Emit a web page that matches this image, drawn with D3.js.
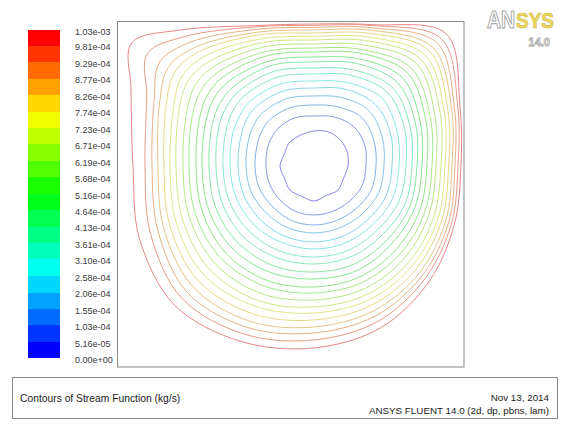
<!DOCTYPE html>
<html>
<head>
<meta charset="utf-8">
<script src="https://cdn.jsdelivr.net/npm/d3@7"></script>
<style>
  body { margin: 0; background: #fff; }
  svg { display: block; }
  text { font-family: "Liberation Sans", Arial, sans-serif; }
</style>
</head>
<body>
<svg id="chart" width="569" height="431"></svg>
<script>
// Contour levels of the stream function (kg/s), bottom to top of the colour bar
const levels = [0, 5.16e-5, 1.03e-4, 1.55e-4, 2.06e-4, 2.58e-4, 3.10e-4, 3.61e-4,
  4.13e-4, 4.64e-4, 5.16e-4, 5.68e-4, 6.19e-4, 6.71e-4, 7.23e-4, 7.74e-4,
  8.26e-4, 8.77e-4, 9.29e-4, 9.81e-4, 1.03e-3];

const tickLabels = ["0.00e+00", "5.16e-05", "1.03e-04", "1.55e-04", "2.06e-04",
  "2.58e-04", "3.10e-04", "3.61e-04", "4.13e-04", "4.64e-04", "5.16e-04",
  "5.68e-04", "6.19e-04", "6.71e-04", "7.23e-04", "7.74e-04", "8.26e-04",
  "8.77e-04", "9.29e-04", "9.81e-04", "1.03e-03"];

// Colour of each band between two neighbouring levels
const bandColors = ["#0000ff", "#0035ff", "#006bff", "#00a1ff", "#00d7ff",
  "#00fff1", "#00ffbc", "#00ff86", "#00ff50", "#00ff1b", "#1bff00", "#51ff00",
  "#86ff00", "#bcff00", "#f2ff00", "#ffd700", "#ffa100", "#ff6b00", "#ff3500",
  "#ff0000"];

// Cavity is 100 mm x 100 mm; primary vortex centre (mm)
const vortexCentre = [55.8, 56.8];

// Directions (degrees, counter-clockwise from +x) along which iso-lines are sampled
const rayAngles = [0, 22.5, 45, 67.5, 90, 112.5, 135, 146, 157.5,
  180, 202.5, 225, 247.5, 270, 292.5, 315, 337.5];

// Distance (mm) from the vortex centre to each iso-line along each ray;
// one row per ray, one column per level (5.16e-05 ... 1.03e-03)
const crossings = [
  [10.2, 15.6, 18.6, 21.0, 23.4, 25.5, 27.6, 29.4, 30.9, 32.4, 33.9, 35.4, 36.6, 38.1, 39.3, 40.4, 41.4, 42.3, 43.2, 44.1],
  [10.8, 16.5, 19.5, 22.2, 24.9, 27.0, 29.4, 31.2, 33.0, 34.5, 36.3, 37.8, 39.3, 41.0, 42.3, 43.5, 44.7, 45.6, 46.7, 47.4],
  [11.1, 16.8, 20.4, 23.4, 26.1, 28.8, 31.2, 33.3, 35.4, 37.5, 39.6, 41.4, 43.5, 45.3, 47.1, 48.9, 50.4, 52.2, 54.0, 56.1],
  [11.1, 15.9, 19.2, 22.2, 24.9, 27.0, 29.4, 31.2, 33.3, 34.8, 36.6, 37.8, 39.3, 40.7, 41.9, 43.1, 44.1, 44.9, 45.6, 45.9],
  [10.5, 15.0, 18.3, 21.0, 23.4, 25.5, 27.6, 29.4, 31.2, 32.7, 34.2, 35.4, 36.6, 37.8, 38.9, 39.9, 40.8, 41.6, 42.2, 42.6],
  [10.1, 15.6, 18.9, 21.8, 24.3, 26.6, 28.8, 30.8, 32.7, 34.2, 35.9, 37.2, 38.7, 40.1, 41.3, 42.6, 43.5, 44.4, 45.2, 45.6],
  [10.2, 15.6, 19.2, 22.2, 24.9, 27.3, 29.7, 31.8, 33.9, 36.0, 38.1, 40.2, 42.3, 44.4, 46.5, 48.6, 50.4, 52.5, 54.9, 57.6],
  [9.9, 15.3, 18.8, 21.8, 24.5, 26.9, 29.4, 31.7, 33.9, 36.2, 38.4, 40.8, 43.1, 45.6, 47.9, 50.4, 52.8, 55.8, 60.3, 66.0],
  [9.6, 15.0, 18.3, 21.2, 23.7, 26.3, 28.5, 30.9, 33.0, 35.1, 37.2, 39.5, 41.4, 43.8, 45.6, 48.0, 50.1, 51.9, 54.3, 59.4],
  [10.2, 14.4, 17.7, 20.4, 22.8, 25.2, 27.3, 29.4, 31.5, 33.6, 35.4, 37.5, 39.3, 41.4, 43.2, 45.0, 46.8, 48.6, 50.7, 54.3],
  [9.6, 14.4, 17.7, 20.4, 22.8, 25.2, 27.5, 29.7, 32.0, 34.2, 36.2, 38.4, 40.4, 42.6, 44.7, 46.8, 48.8, 50.7, 53.1, 56.7],
  [10.2, 14.4, 17.4, 20.1, 22.8, 25.2, 27.6, 30.0, 32.4, 34.8, 37.2, 39.3, 41.7, 44.1, 46.5, 48.9, 51.3, 53.7, 56.1, 59.1],
  [9.8, 14.7, 17.7, 20.1, 22.8, 24.9, 27.5, 29.7, 32.3, 34.5, 37.1, 39.0, 41.4, 43.7, 45.6, 48.0, 50.4, 52.4, 54.6, 57.0],
  [10.5, 14.7, 17.7, 20.1, 22.8, 24.9, 27.3, 29.4, 31.8, 33.9, 36.3, 38.1, 40.2, 42.3, 44.1, 46.2, 48.3, 50.1, 52.2, 54.6],
  [9.6, 14.7, 17.7, 20.1, 22.8, 24.9, 27.3, 29.4, 31.8, 33.9, 36.0, 37.8, 39.8, 41.7, 43.4, 45.2, 47.0, 48.6, 50.4, 52.5],
  [10.2, 15.0, 18.0, 20.4, 22.8, 24.9, 27.0, 29.1, 31.2, 33.0, 35.1, 36.9, 38.7, 40.5, 42.0, 43.5, 45.0, 46.2, 47.4, 48.9],
  [9.6, 15.6, 18.6, 21.0, 23.4, 25.5, 27.6, 29.6, 31.2, 32.7, 34.4, 36.0, 37.4, 39.0, 40.4, 41.6, 42.8, 43.8, 44.7, 45.6]
];

const svg = d3.select("#chart");

// ---- colour bar ----
const barY = d3.scaleLinear().domain([0, levels[levels.length - 1]]).range([358.3, 30]);
const bar = svg.append("g");
bar.selectAll("rect")
  .data(bandColors)
  .join("rect")
  .attr("x", 28)
  .attr("width", 32)
  .attr("y", (c, i) => barY(levels[i + 1]))
  .attr("height", (c, i) => barY(levels[i]) - barY(levels[i + 1]))
  .attr("fill", c => c)
  .attr("shape-rendering", "crispEdges");

bar.selectAll("text")
  .data(tickLabels)
  .join("text")
  .attr("x", 75)
  .attr("y", (t, i) => barY(levels[i]) + 4.7)
  .attr("font-size", 9)
  .attr("fill", "#3a3a3a")
  .text(t => t);

// ---- plot frame ----
svg.append("rect")
  .attr("x", 117.5).attr("y", 21.5)
  .attr("width", 346.5).attr("height", 345.5)
  .attr("fill", "none")
  .attr("stroke", "#8a8a8a")
  .attr("stroke-width", 1);

// ---- stream-function iso-lines ----
const x = d3.scaleLinear().domain([0, 100]).range([128, 461.3]);
const y = d3.scaleLinear().domain([0, 100]).range([355.3, 22]);

const contourLevels = levels.slice(1);
const contours = contourLevels.map((v, k) => ({
  value: v,
  color: bandColors[k],
  points: rayAngles.map((a, j) => {
    const t = a * Math.PI / 180;
    const r = crossings[j][k];
    return [vortexCentre[0] + r * Math.cos(t), vortexCentre[1] + r * Math.sin(t)];
  })
}));

const line = d3.line()
  .x(p => x(p[0]))
  .y(p => y(p[1]))
  .curve(d3.curveCatmullRomClosed.alpha(0.5));

// thin, washed-out line colours
const lineColor = c => d3.interpolateRgb(c, "#d8d8d8")(0.62);

svg.append("g")
  .selectAll("path")
  .data(contours)
  .join("path")
  .attr("d", c => line(c.points))
  .attr("fill", "none")
  .attr("stroke", c => lineColor(c.color))
  .attr("stroke-width", 1);

// ---- product logo ----
svg.append("text")
  .attr("transform", "translate(487,28) scale(1,1.2)")
  .attr("font-size", 19.5)
  .attr("font-weight", "bold")
  .attr("fill", "#ffffff").attr("stroke", "#a8a8a8").attr("stroke-width", 0.9)
  .text("AN");
svg.append("text")
  .attr("transform", "translate(516,28) scale(1,1.2)")
  .attr("font-size", 19)
  .attr("font-weight", "bold")
  .attr("fill", "#ecd660").attr("stroke", "#d2bc48").attr("stroke-width", 0.6)
  .text("SYS");
svg.append("text")
  .attr("x", 550).attr("y", 46)
  .attr("text-anchor", "end")
  .attr("font-size", 11)
  .attr("font-weight", "bold")
  .attr("fill", "#ffffff")
  .attr("stroke", "#a8a8a8")
  .attr("stroke-width", 0.8)
  .text("14.0");

// ---- caption box ----
svg.append("rect")
  .attr("x", 12.5).attr("y", 377.5)
  .attr("width", 545).attr("height", 41)
  .attr("fill", "none")
  .attr("stroke", "#8a8a8a");
svg.append("text")
  .attr("x", 20).attr("y", 402)
  .attr("font-size", 10.3).attr("fill", "#1a1a1a")
  .text("Contours of Stream Function (kg/s)");
svg.append("text")
  .attr("x", 549).attr("y", 401)
  .attr("text-anchor", "end")
  .attr("font-size", 9.8).attr("fill", "#1a1a1a")
  .text("Nov 13, 2014");
svg.append("text")
  .attr("x", 549).attr("y", 414)
  .attr("text-anchor", "end")
  .attr("font-size", 9.8).attr("fill", "#1a1a1a")
  .text("ANSYS FLUENT 14.0 (2d, dp, pbns, lam)");
</script>
</body>
</html>
